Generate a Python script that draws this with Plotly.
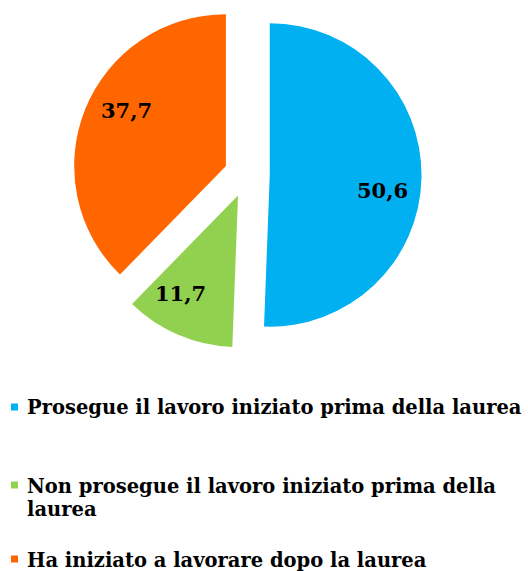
import math
import plotly.graph_objects as go

labels = [
    "Prosegue il lavoro iniziato prima della laurea",
    "Non prosegue il lavoro iniziato prima della laurea",
    "Ha iniziato a lavorare dopo la laurea",
]
legend_lines = [
    ["Prosegue il lavoro iniziato prima della laurea"],
    ["Non prosegue il lavoro iniziato prima della", "laurea"],
    ["Ha iniziato a lavorare dopo la laurea"],
]
values = [50.6, 11.7, 37.7]
colors = ["#00B0F0", "#92D050", "#FF6600"]

W, H = 528, 571
FONT = "DejaVu Serif"
PULL = 0.15
DOM_X = (72, 422)   # pixel extent of pie domain
DOM_Y = (0, 349)


def fx(p):
    return p / W


def fy(p):
    return 1 - p / H


fig = go.Figure(
    go.Pie(
        labels=labels,
        values=values,
        marker=dict(colors=colors, line=dict(width=0)),
        sort=False,
        direction="clockwise",
        rotation=0,
        pull=[PULL] * len(values),
        textinfo="none",
        domain=dict(x=[fx(DOM_X[0]), fx(DOM_X[1])], y=[fy(DOM_Y[1]), 1.0]),
        showlegend=False,
        hoverinfo="label+value",
    )
)

annotations = []
shapes = []

# data labels placed inside each slice (computed from the values)
cx = (DOM_X[0] + DOM_X[1]) / 2
cy = (DOM_Y[0] + DOM_Y[1]) / 2
r = min(DOM_X[1] - DOM_X[0], DOM_Y[1] - DOM_Y[0]) / 2 / (1 + PULL)
total = sum(values)
cum = 0
for v in values:
    mid = (cum + v / 2) / total * 360
    cum += v
    ang = math.radians(mid)
    vx = cx + PULL * r * math.sin(ang)
    vy = cy - PULL * r * math.cos(ang)
    la = math.radians(mid + 7)
    lx = vx + 0.75 * r * math.sin(la)
    ly = vy - 0.75 * r * math.cos(la)
    annotations.append(dict(text="<b>" + f"{v:.1f}".replace(".", ",") + "</b>",
                            xref="paper", yref="paper", x=fx(lx), y=fy(ly),
                            xanchor="center", yanchor="middle", showarrow=False,
                            font=dict(family=FONT, size=21, color="black")))

marker_centers = [407, 485, 559]
line_gap = 23
for i, (lines, col) in enumerate(zip(legend_lines, colors)):
    mc = marker_centers[i]
    shapes.append(dict(type="rect", xref="paper", yref="paper",
                       x0=fx(11), x1=fx(18), y0=fy(mc - 3.5), y1=fy(mc + 3.5),
                       fillcolor=col, line=dict(width=0)))
    for j, t in enumerate(lines):
        annotations.append(dict(text="<b>" + t + "</b>", xref="paper", yref="paper",
                                x=fx(25), y=fy(mc + 1 + j * line_gap), xanchor="left", yanchor="middle",
                                showarrow=False,
                                font=dict(family=FONT, size=19.5, color="black")))

fig.update_layout(
    width=W, height=H,
    margin=dict(l=0, r=0, t=0, b=0),
    paper_bgcolor="white", plot_bgcolor="white",
    separators=",.",
    shapes=shapes,
    annotations=annotations,
)

fig.write_html("out.html")
